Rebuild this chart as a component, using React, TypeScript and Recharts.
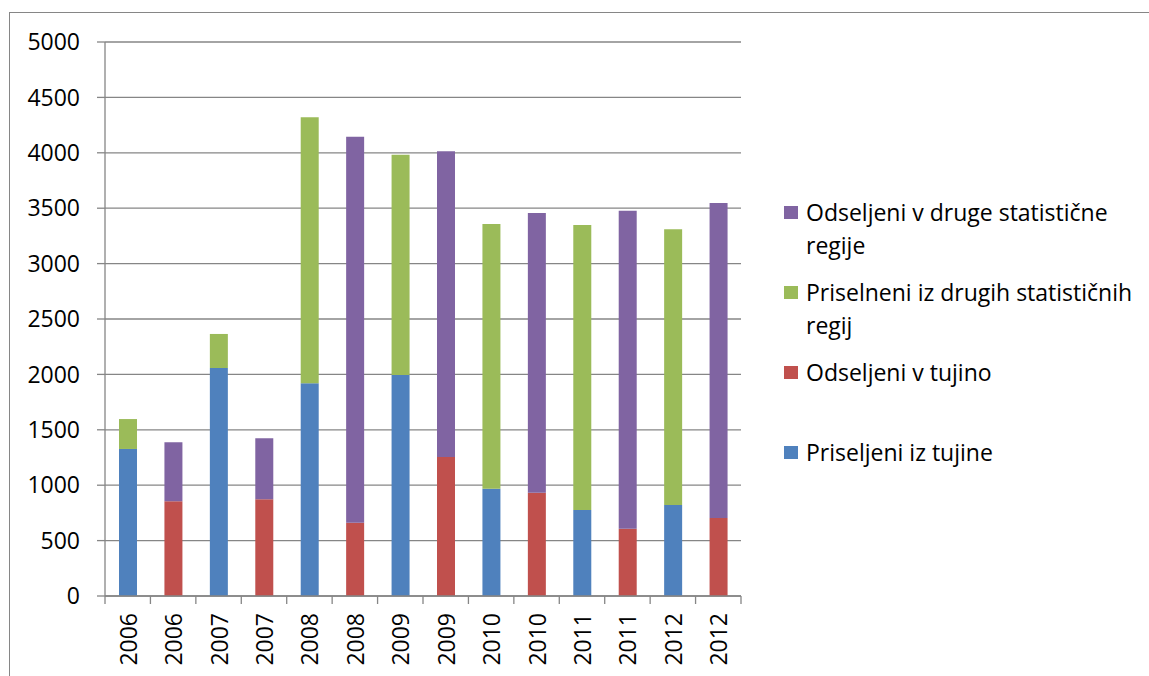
import React from 'react';
import { BarChart, Bar, XAxis, YAxis, CartesianGrid } from 'recharts';

const categories = ['2006', '2006', '2007', '2007', '2008', '2008', '2009', '2009', '2010', '2010', '2011', '2011', '2012', '2012'];
const priseljeniIzTujine = [1327, 0, 2058, 0, 1920, 0, 1995, 0, 968, 0, 776, 0, 821, 0];
const odseljeniVTujino = [0, 855, 0, 873, 0, 662, 0, 1254, 0, 932, 0, 607, 0, 704];
const priseljeniIzRegij = [270, 0, 307, 0, 2400, 0, 1988, 0, 2389, 0, 2572, 0, 2488, 0];
const odseljeniVRegije = [0, 532, 0, 550, 0, 3483, 0, 2759, 0, 2525, 0, 2870, 0, 2843];
const yTicks = [0, 500, 1000, 1500, 2000, 2500, 3000, 3500, 4000, 4500, 5000];

const seriesNames = {
  pit: 'Priseljeni iz tujine',
  ovt: 'Odseljeni v tujino',
  pir: 'Priselneni iz drugih statističnih regij',
  ovr: 'Odseljeni v druge statistične regije',
};
const seriesColors = {
  pit: '#4F81BD',
  ovt: '#C0504D',
  pir: '#9BBB59',
  ovr: '#8064A2',
};
const legendOrder = ['ovr', 'pir', 'ovt', 'pit'];

const data = categories.map((c, i) => ({
  year: c,
  pit: priseljeniIzTujine[i],
  ovt: odseljeniVTujino[i],
  pir: priseljeniIzRegij[i],
  ovr: odseljeniVRegije[i],
}));

const W = 1149;
const H = 676;
const MARGIN = { top: 42, right: 408, bottom: 0, left: 0 };
const Y_AXIS_W = 105;
const X_AXIS_H = 80;
const FONT = '"Open Sans", sans-serif';
const FS = 23;
const GRID = '#868686';
const BAND = (W - MARGIN.left - MARGIN.right - Y_AXIS_W) / categories.length;

const XTick = (props: any) => {
  const { x, y, payload, index } = props;
  const ty = y + 17;
  return (
    <g>
      <line x1={x - BAND / 2} x2={x - BAND / 2} y1={y} y2={y + 8} stroke={GRID} strokeWidth={1.3} />
      {index === categories.length - 1 && (
        <line x1={x + BAND / 2} x2={x + BAND / 2} y1={y} y2={y + 8} stroke={GRID} strokeWidth={1.3} />
      )}
      <text
        x={x}
        y={ty}
        transform={`rotate(-90, ${x}, ${ty})`}
        textAnchor="end"
        dominantBaseline="central"
        fontFamily={FONT}
        fontSize={FS}
        fill="#000"
      >
        {payload.value}
      </text>
    </g>
  );
};

const LegendBox = () => (
  <div style={{ position: 'absolute', left: 784, top: 196, fontFamily: FONT, fontSize: FS, color: '#000' }}>
    {legendOrder.map((k) => (
      <div key={k} style={{ height: 80, display: 'flex', alignItems: 'flex-start' }}>
        <div
          style={{
            width: 14,
            height: 13,
            background: (seriesColors as any)[k],
            marginTop: 10,
            marginRight: 8,
            flex: 'none',
          }}
        />
        <div style={{ width: 340, lineHeight: '33px' }}>{(seriesNames as any)[k]}</div>
      </div>
    ))}
  </div>
);

export default function App() {
  return (
    <div style={{ position: 'absolute', left: 0, top: 0, width: W, height: H, overflow: 'hidden', background: '#fff' }}>
      <div
        style={{
          position: 'absolute',
          left: 9,
          top: 12,
          width: 3000,
          height: 3000,
          borderLeft: `1.5px solid ${GRID}`,
          borderTop: `1.5px solid ${GRID}`,
        }}
      />
      <BarChart width={W} height={H} data={data} margin={MARGIN} barSize={18}>
        <CartesianGrid vertical={false} stroke={GRID} strokeWidth={1.3} />
        <XAxis
          dataKey="year"
          height={X_AXIS_H}
          interval={0}
          tickLine={false}
          tickSize={0}
          tickMargin={0}
          axisLine={{ stroke: GRID, strokeWidth: 1.3 }}
          tick={<XTick />}
        />
        <YAxis
          width={Y_AXIS_W}
          domain={[0, 5000]}
          ticks={yTicks}
          interval={0}
          tickSize={8}
          tickMargin={17}
          axisLine={{ stroke: GRID, strokeWidth: 1.3 }}
          tickLine={{ stroke: GRID, strokeWidth: 1.3 }}
          tick={{ fill: '#000', fontFamily: FONT, fontSize: FS }}
        />
        <Bar dataKey="pit" name={seriesNames.pit} stackId="a" fill={seriesColors.pit} isAnimationActive={false} />
        <Bar dataKey="ovt" name={seriesNames.ovt} stackId="a" fill={seriesColors.ovt} isAnimationActive={false} />
        <Bar dataKey="pir" name={seriesNames.pir} stackId="a" fill={seriesColors.pir} isAnimationActive={false} />
        <Bar dataKey="ovr" name={seriesNames.ovr} stackId="a" fill={seriesColors.ovr} isAnimationActive={false} />
      </BarChart>
      <LegendBox />
    </div>
  );
}
